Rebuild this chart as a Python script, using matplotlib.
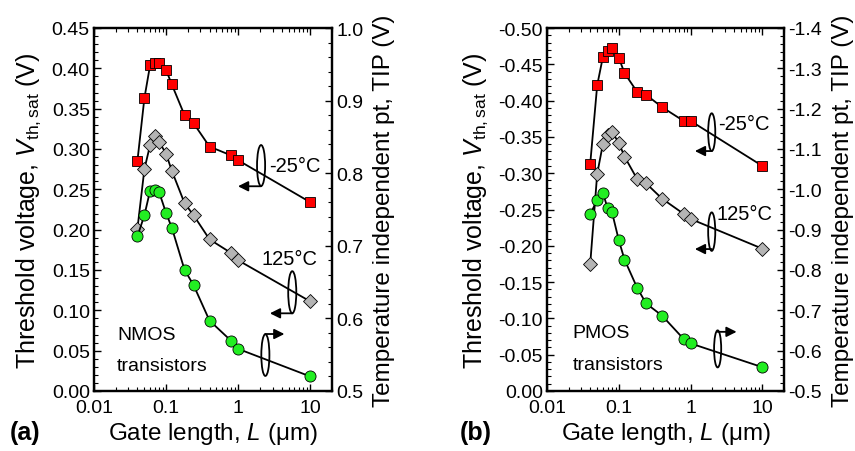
import numpy as np
import matplotlib
matplotlib.use("Agg")
import matplotlib.pyplot as plt
from matplotlib.patches import Ellipse
from matplotlib.ticker import MultipleLocator, FuncFormatter, LogLocator, NullFormatter

plt.rcParams['font.family'] = ['Liberation Sans', 'DejaVu Sans']
plt.rcParams['mathtext.fontset'] = 'custom'
plt.rcParams['mathtext.rm'] = 'Liberation Sans'
plt.rcParams['mathtext.it'] = 'Liberation Sans:italic'

# gate lengths (um)
gate_len = [0.04, 0.05, 0.06, 0.07, 0.08, 0.1, 0.12, 0.18, 0.24, 0.4, 0.8, 1.0, 10]

# NMOS
n_vth_m25 = [0.285, 0.363, 0.404, 0.407, 0.406, 0.398, 0.380, 0.342, 0.332, 0.303, 0.292, 0.286, 0.234]
n_vth_125 = [0.201, 0.275, 0.305, 0.316, 0.309, 0.294, 0.273, 0.233, 0.218, 0.188, 0.171, 0.162, 0.111]
n_tip = [0.713, 0.742, 0.776, 0.777, 0.774, 0.745, 0.725, 0.667, 0.646, 0.597, 0.569, 0.558, 0.520]

# PMOS
p_vth_m25 = [-0.313, -0.421, -0.460, -0.468, -0.472, -0.459, -0.438, -0.412, -0.408, -0.391, -0.372, -0.372, -0.310]
p_vth_125 = [-0.175, -0.299, -0.340, -0.352, -0.357, -0.342, -0.323, -0.292, -0.286, -0.265, -0.244, -0.237, -0.196]
p_tip = [-0.938, -0.974, -0.991, -0.953, -0.945, -0.874, -0.826, -0.756, -0.717, -0.687, -0.629, -0.618, -0.559]

RED = '#ff0000'
GRAY = '#b4b4b4'
GREEN = '#22ee22'
TICK_FS = 14
LAB_FS = 17.5

fig = plt.figure(figsize=(8.55, 4.52), dpi=100)


def style_axes(ax, twin):
    ax.set_xscale('log')
    ax.set_xlim(0.01, 20)
    ax.xaxis.set_major_locator(LogLocator(base=10, numticks=10))
    ax.xaxis.set_minor_locator(LogLocator(base=10, subs=np.arange(2, 10), numticks=20))
    ax.xaxis.set_minor_formatter(NullFormatter())
    ax.xaxis.set_major_formatter(FuncFormatter(lambda v, p: f"{v:g}"))
    ax.tick_params(axis='x', which='both', direction='in', top=True, labelsize=TICK_FS, pad=6)
    ax.tick_params(axis='x', which='major', length=5, width=1)
    ax.tick_params(axis='x', which='minor', length=3, width=0.8)
    ax.tick_params(axis='y', which='major', direction='in', length=5, width=1, labelsize=TICK_FS, pad=3)
    ax.tick_params(axis='y', which='minor', direction='in', length=3, width=0.8)
    twin.tick_params(axis='y', which='major', direction='in', length=5, width=1, labelsize=TICK_FS, pad=3)
    twin.tick_params(axis='y', which='minor', direction='in', length=3, width=0.8)
    for a in (ax, twin):
        for s in a.spines.values():
            s.set_linewidth(1.6)
    ax.set_xlabel('Gate length, $L$ ($\\mathregular{\\mu}$m)', fontsize=LAB_FS, labelpad=3)
    ax.set_ylabel('Threshold voltage, $V_{\\mathregular{th,sat}}$ (V)', fontsize=LAB_FS + 0.5, labelpad=6)
    twin.set_ylabel('Temperature independent pt, TIP (V)', fontsize=LAB_FS, labelpad=7)


def draw(ax, y, marker, color, ms):
    ax.plot(gate_len, y, '-', color='black', lw=1.3, marker=marker, ms=ms,
            mfc=color, mec='black', mew=0.6, zorder=3)


def callout(ax, cx, cy, h, x_end, y_arrow, w=0.034):
    ax.add_patch(Ellipse((cx, cy), w, h, transform=ax.transAxes, fill=False,
                         ec='black', lw=1.3, zorder=5))
    ax.annotate('', xy=(x_end, y_arrow), xytext=(cx, y_arrow),
                xycoords='axes fraction', textcoords='axes fraction',
                arrowprops=dict(arrowstyle='-|>,head_length=0.6,head_width=0.3',
                                color='black', lw=1.3, shrinkA=0, shrinkB=0), zorder=5)


# ---- panel (a): NMOS
axa = fig.add_axes([94 / 855, 60 / 452, 238 / 855, 363 / 452])
axa2 = axa.twinx()
draw(axa, n_vth_m25, 's', RED, 7.5)
draw(axa, n_vth_125, 'D', GRAY, 7)
draw(axa2, n_tip, 'o', GREEN, 8)
axa.set_ylim(0, 0.45)
axa.yaxis.set_major_locator(MultipleLocator(0.05))
axa.yaxis.set_minor_locator(MultipleLocator(0.01))
axa.yaxis.set_major_formatter(FuncFormatter(lambda v, p: "0.00" if abs(v) < 1e-9 else f"{v:.2f}"))
axa2.set_ylim(0.5, 1.0)
axa2.yaxis.set_major_locator(MultipleLocator(0.1))
axa2.yaxis.set_minor_locator(MultipleLocator(0.02))
axa2.yaxis.set_major_formatter(FuncFormatter(lambda v, p: f"{v:.1f}"))
style_axes(axa, axa2)

callout(axa, 0.702, 0.621, 0.113, 0.605, 0.564)
axa.text(0.735, 0.621, '-25\u00b0C', transform=axa.transAxes, fontsize=TICK_FS + 0.5, va='center')
callout(axa, 0.833, 0.272, 0.116, 0.739, 0.214)
axa.text(0.705, 0.366, '125\u00b0C', transform=axa.transAxes, fontsize=TICK_FS + 0.5, va='center')
callout(axa, 0.72, 0.099, 0.115, 0.80, 0.157)
axa.text(0.097, 0.157, 'NMOS', transform=axa.transAxes, fontsize=TICK_FS, va='center')
axa.text(0.097, 0.07, 'transistors', transform=axa.transAxes, fontsize=TICK_FS, va='center')
fig.text(10 / 855, 1 - 433 / 452, '(a)', fontsize=LAB_FS + 0.5, fontweight='bold', va='center')

# ---- panel (b): PMOS
axb = fig.add_axes([547 / 855, 60 / 452, 237 / 855, 363 / 452])
axb2 = axb.twinx()
draw(axb, p_vth_m25, 's', RED, 7.5)
draw(axb, p_vth_125, 'D', GRAY, 7)
draw(axb2, p_tip, 'o', GREEN, 8)
axb.set_ylim(0, -0.5)
axb.yaxis.set_major_locator(MultipleLocator(0.05))
axb.yaxis.set_minor_locator(MultipleLocator(0.01))
axb.yaxis.set_major_formatter(FuncFormatter(lambda v, p: "0.00" if abs(v) < 1e-9 else f"{v:.2f}"))
axb2.set_ylim(-0.5, -1.4)
axb2.yaxis.set_major_locator(MultipleLocator(0.1))
axb2.yaxis.set_minor_locator(MultipleLocator(0.02))
axb2.yaxis.set_major_formatter(FuncFormatter(lambda v, p: f"{v:.1f}"))
style_axes(axb, axb2)

callout(axb, 0.695, 0.713, 0.104, 0.624, 0.661, w=0.03)
axb.text(0.72, 0.736, '-25\u00b0C', transform=axb.transAxes, fontsize=TICK_FS + 0.5, va='center')
callout(axb, 0.695, 0.439, 0.106, 0.624, 0.391, w=0.03)
axb.text(0.716, 0.488, '125\u00b0C', transform=axb.transAxes, fontsize=TICK_FS + 0.5, va='center')
callout(axb, 0.72, 0.116, 0.102, 0.80, 0.163, w=0.03)
axb.text(0.108, 0.16, 'PMOS', transform=axb.transAxes, fontsize=TICK_FS, va='center')
axb.text(0.108, 0.072, 'transistors', transform=axb.transAxes, fontsize=TICK_FS, va='center')
fig.text(460 / 855, 1 - 433 / 452, '(b)', fontsize=LAB_FS + 0.5, fontweight='bold', va='center')

fig.savefig('out.png', dpi=100)
